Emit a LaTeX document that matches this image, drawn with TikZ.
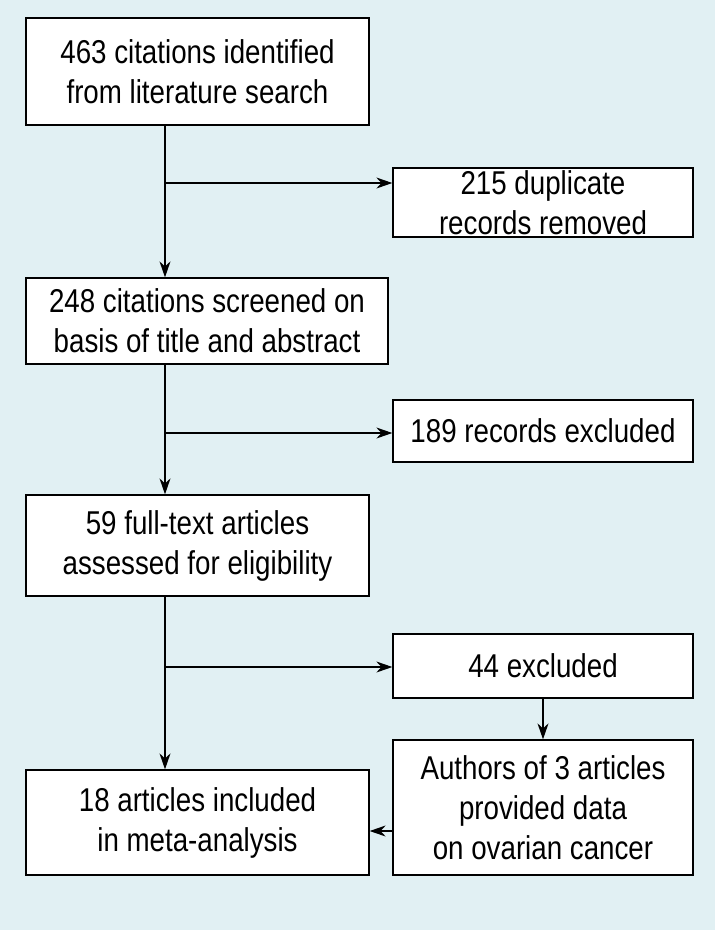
\documentclass[tikz,border=0pt]{standalone}
\usepackage{fontspec}
\setmainfont[FakeStretch=0.84]{Liberation Sans}
\usetikzlibrary{arrows.meta}
\definecolor{bg}{HTML}{E1F0F3}
\begin{document}
\begin{tikzpicture}[x=1pt,y=-1pt,
 box/.style={draw,fill=white,line width=1.3pt,align=center,inner sep=0pt,font=\fontsize{33}{40}\selectfont},
 ar/.style={line width=1.3pt,-{Stealth[length=16pt,width=11pt]}}]
\fill[bg] (0,0) rectangle (715,930);
\useasboundingbox (0,0) rectangle (715,930);
\node[box,minimum width=343pt,minimum height=107pt] (b1) at (197.5,71.5) {463 citations identified\\from literature search};
\node[box,minimum width=300pt,minimum height=69pt] (b2) at (543,202.5) {215 duplicate\\records removed};
\node[box,minimum width=362pt,minimum height=86pt] (b3) at (207,321) {248 citations screened on\\basis of title and abstract};
\node[box,minimum width=300pt,minimum height=62pt] (b4) at (543,431) {189 records excluded};
\node[box,minimum width=343pt,minimum height=101pt] (b5) at (197.5,545.5) {59 full-text articles\\assessed for eligibility};
\node[box,minimum width=300pt,minimum height=64pt] (b6) at (543,666) {44 excluded};
\node[box,minimum width=343pt,minimum height=105pt] (b7) at (197.5,822.5) {18 articles included\\in meta-analysis};
\node[box,minimum width=300pt,minimum height=135pt] (b8) at (543,807.5) {Authors of 3 articles\\provided data\\on ovarian cancer};
\coordinate (j1) at (165,183);
\coordinate (j2) at (165,433);
\coordinate (j3) at (165,667);
\draw[ar] (b1.south -| j1) -- (b3.north -| j1);
\draw[ar] (j1) -- (j1 -| b2.west);
\draw[ar] (b3.south -| j2) -- (b5.north -| j2);
\draw[ar] (j2) -- (j2 -| b4.west);
\draw[ar] (b5.south -| j3) -- (b7.north -| j3);
\draw[ar] (j3) -- (j3 -| b6.west);
\draw[ar] (b6.south) -- (b8.north);
\draw[ar] (b8.west |- 0,831) -- (b7.east |- 0,831);
\end{tikzpicture}
\end{document}
